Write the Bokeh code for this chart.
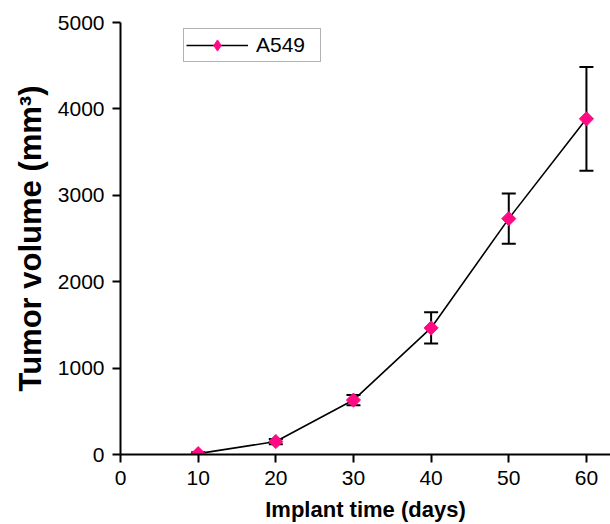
import math
from bokeh.plotting import figure
from bokeh.models import ColumnDataSource, Whisker, TeeHead, Range1d, Legend, LegendItem, FixedTicker
from bokeh.embed import file_html
from bokeh.resources import INLINE

days = [10, 20, 30, 40, 50, 60]
volume = [10, 150, 630, 1465, 2730, 3885]
error = [15, 30, 60, 180, 290, 600]
x_ticks = [0, 10, 20, 30, 40, 50, 60]
y_ticks = [0, 1000, 2000, 3000, 4000, 5000]

lower = [v - e for v, e in zip(volume, error)]
upper = [v + e for v, e in zip(volume, error)]
src = ColumnDataSource(dict(x=days, y=volume, lo=lower, hi=upper))

FONT = "Liberation Sans"
PINK = "#FF0A84"

p = figure(width=610, height=524, output_backend="svg", toolbar_location=None,
           x_range=Range1d(0, 63.1), y_range=Range1d(0, 5000),
           min_border_left=120, min_border_right=0, min_border_top=22, min_border_bottom=70)
p.outline_line_color = None
p.grid.visible = False
p.background_fill_color = "white"

w = Whisker(source=src, base="x", lower="lo", upper="hi", line_color="black", line_width=2,
            upper_head=TeeHead(size=14, line_color="black", line_width=2),
            lower_head=TeeHead(size=14, line_color="black", line_width=2))
p.add_layout(w)

ln = p.line("x", "y", source=src, line_color="black", line_width=1.6)
# legend-only diamond: sits hidden underneath the first data marker
leg_src = ColumnDataSource(dict(x=days[:1], y=volume[:1]))
leg_marker = p.scatter("x", "y", source=leg_src, marker="diamond", size=9,
                       fill_color=PINK, line_color=PINK)
sc = p.scatter("x", "y", source=src, marker="square", angle=math.pi / 4, size=10,
               fill_color=PINK, line_color=PINK)

for ax in (p.xaxis[0], p.yaxis[0]):
    ax.axis_line_width = 2
    ax.axis_line_color = "black"
    ax.major_tick_line_width = 2
    ax.major_tick_line_color = "black"
    ax.major_tick_out = 8
    ax.major_tick_in = 0
    ax.minor_tick_line_color = None
    ax.major_label_text_font = FONT
    ax.major_label_text_font_size = "21px"
    ax.major_label_text_color = "black"
    ax.axis_label_text_font = FONT
    ax.axis_label_text_font_style = "bold"
    ax.axis_label_text_color = "black"

p.xaxis.axis_label_text_font_size = "22px"
p.yaxis.axis_label_text_font_size = "31px"
p.xaxis.ticker = FixedTicker(ticks=x_ticks)
p.yaxis.ticker = FixedTicker(ticks=y_ticks)
p.xaxis.axis_label = "Implant time (days)"
p.yaxis.axis_label = "Tumor volume (mm³)"
p.xaxis.major_label_standoff = 8
p.yaxis.major_label_standoff = 8
p.xaxis.axis_label_standoff = 9
p.yaxis.axis_label_standoff = 7

legend = Legend(items=[LegendItem(label="A549", renderers=[ln, leg_marker])], location=(63, 392))
legend.border_line_color = "#666666"
legend.border_line_width = 1
legend.label_text_font = FONT
legend.label_text_font_size = "21px"
legend.label_text_color = "black"
legend.glyph_width = 62
legend.glyph_height = 28
legend.label_width = 62
legend.padding = 2
legend.spacing = 0
legend.margin = 0
legend.label_standoff = 8
p.add_layout(legend)

open("out.html", "w").write(file_html(p, INLINE))
